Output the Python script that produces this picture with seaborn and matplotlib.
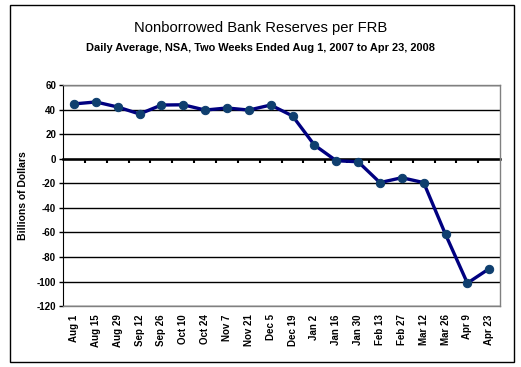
import pandas as pd
import matplotlib.pyplot as plt
import seaborn as sns
from matplotlib.patches import Rectangle

# Two-week periods ending on these dates
periods = ['Aug 1', 'Aug 15', 'Aug 29', 'Sep 12', 'Sep 26', 'Oct 10', 'Oct 24',
           'Nov 7', 'Nov 21', 'Dec 5', 'Dec 19', 'Jan 2', 'Jan 16', 'Jan 30',
           'Feb 13', 'Feb 27', 'Mar 12', 'Mar 26', 'Apr 9', 'Apr 23']
# Nonborrowed reserves, billions of dollars
reserves = [44.7, 46.3, 42.2, 36.5, 43.8, 44.0, 39.7, 41.4, 39.7, 43.8, 34.9,
            11.2, -1.6, -2.4, -19.4, -15.4, -19.4, -61.6, -101.3, -89.5]
y_ticks = [60, 40, 20, 0, -20, -40, -60, -80, -100, -120]

df = pd.DataFrame({'pos': range(len(periods)), 'period': periods, 'reserves': reserves})

plt.rcParams['font.family'] = ['Liberation Sans', 'DejaVu Sans']
fig = plt.figure(figsize=(5.21, 3.67), dpi=100)
ax = fig.add_axes([0.121, 0.166, 0.839, 0.602])

sns.lineplot(data=df, x='pos', y='reserves', ax=ax, color='#000080', linewidth=2.4,
             marker='o', markersize=6, markerfacecolor='#0F3F6F', markeredgecolor='#0F3F6F')

ax.set_xlim(-0.5, len(periods) - 0.5)
ax.set_ylim(-120, 60)
ax.set_yticks(y_ticks)
ax.set_yticklabels([str(v) for v in y_ticks], fontsize=7, fontweight='bold')
ax.set_xticks(df['pos'])
ax.set_xticklabels(periods, rotation=90, fontsize=7, fontweight='bold')
ax.tick_params(axis='x', length=0, pad=6)
ax.tick_params(axis='y', length=3, width=1, pad=2)
ax.set_xlabel('')
ax.set_ylabel('Billions of Dollars', fontsize=7.5, fontweight='bold', labelpad=6)

ax.grid(axis='y', color='black', linewidth=1)
ax.set_axisbelow(True)
for side in ['top', 'right', 'bottom']:
    ax.spines[side].set_color('#808080')
    ax.spines[side].set_linewidth(1)
ax.spines['left'].set_color('black')

# zero axis with category tick marks hanging below it
zero_axis = ax.secondary_xaxis(2 / 3)
zero_axis.set_xticks([p + 0.5 for p in range(len(periods) - 1)], labels=[])
zero_axis.tick_params(direction='in', length=3, width=1.5, color='black')
for sp in zero_axis.spines.values():
    sp.set_linewidth(1.8)
    sp.set_color('black')

fig.text(0.5, 0.924, 'Nonborrowed Bank Reserves per FRB', ha='center', va='center', fontsize=10.6)
fig.text(0.5, 0.869, 'Daily Average, NSA, Two Weeks Ended Aug 1, 2007 to Apr 23, 2008',
         ha='center', va='center', fontsize=7.9, fontweight='bold')

fig.patches.append(Rectangle((10 / 521, 1 - 362 / 367), 504 / 521, 357 / 367,
                             transform=fig.transFigure, fill=False, edgecolor='black', linewidth=1))

fig.savefig('out.png', dpi=100)
